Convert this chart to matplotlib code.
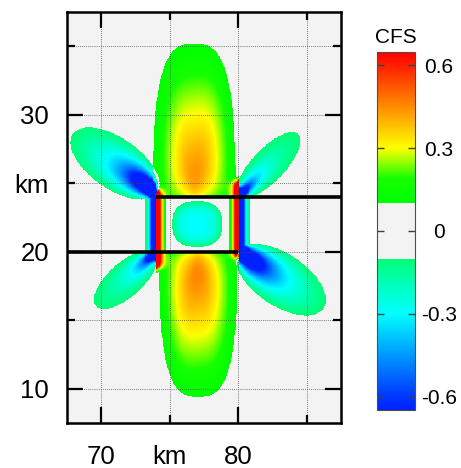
import numpy as np
import matplotlib
matplotlib.use('Agg')
import matplotlib.pyplot as plt
from matplotlib.colors import LinearSegmentedColormap, Normalize

# ---------------- data ----------------
x_range = [67.5, 87.5]
y_range = [7.5, 37.5]

fault_x = [[74.0, 87.5], [67.5, 80.0]]
fault_y = [[24.0, 24.0], [20.0, 20.0]]

# negative petal-shaped lobes emanating from fault corners
petal_x0 = [74.05, 79.95, 80.05, 73.9]
petal_y0 = [24.3, 20.05, 24.1, 19.9]
petal_dir = [145.0, -34.0, 46.5, 222.0]
petal_len = [7.5, 7.5, 6.2, 5.8]
petal_wid = [3.7, 3.8, 2.4, 2.5]
petal_gain = [1.8, 1.8, 0.8, 0.8]

# positive lobes above / below the overlap
lobe_xc = [76.75, 77.05]
lobe_y0 = [24.0, 20.0]
lobe_side = [1, -1]
lobe_halfw = [3.0, 2.85]
lobe_len = [11.2, 10.6]
lobe_peak = [0.44, 0.47]

# thin stress strips at the ends of the overlap
strip_x = [74.0, 80.0]
strip_pos_side = [1, -1]
strip_pos_lo = [18.9, 19.6]
strip_pos_hi = [24.4, 25.1]
strip_neg_lo = [19.6, 19.8]
strip_neg_hi = [24.4, 24.4]
strip_amp_pos = 2.3
strip_amp_neg = 3.6

# central negative lens
lens_xc, lens_yc = 76.97, 22.02
lens_a, lens_b = 1.84, 1.66
lens_peak = -0.3

cbar_ticks = [0.6, 0.3, 0.0, -0.3, -0.6]
cbar_labels = ['0.6', '0.3', '0', '-0.3', '-0.6']

# ---------------- field ----------------
xs = np.arange(x_range[0], x_range[1] + 1e-9, 0.04)
ys = np.arange(y_range[0], y_range[1] + 1e-9, 0.04)
X, Y = np.meshgrid(xs, ys)
Z = np.zeros_like(X)

def sig(z):
    return 1.0 / (1.0 + np.exp(-z))

with np.errstate(divide='ignore', invalid='ignore'):
    for x0, y0, ang, L, W, g in zip(petal_x0, petal_y0, petal_dir, petal_len, petal_wid, petal_gain):
        a = np.radians(ang)
        dx, dy = X - x0, Y - y0
        s = dx * np.cos(a) + dy * np.sin(a)
        t = -dx * np.sin(a) + dy * np.cos(a)
        e = L / W
        q = s / (s * s + (e * t) ** 2 + 1e-9)
        inside = (s > 0) & (q > 1.0 / L)
        qp = np.sqrt(np.clip(q, 0, 100))
        Z += np.where(inside, -(0.1 + g * (qp - L ** -0.5)), 0.0)

    for xc, y0, sd, a, b, pk in zip(lobe_xc, lobe_y0, lobe_side, lobe_halfw, lobe_len, lobe_peak):
        dx = X - xc
        h = (Y - y0) * sd
        rho = (np.abs(dx / a) ** 3 + np.abs(h / b) ** 3) ** (1 / 3)
        P = pk * (1 - 0.55 * np.exp(-np.maximum(h, 0) / 1.0)) * (1 + 0.12 * sd * dx / a)
        Z += np.where((h > 0) & (rho < 1), 0.1 + (1 - rho) * P, 0.0)

    for xs0, sd, plo, phi, nlo, nhi in zip(strip_x, strip_pos_side, strip_pos_lo, strip_pos_hi,
                                           strip_neg_lo, strip_neg_hi):
        d = (X - xs0) * sd
        wp = sig((Y - plo) / 0.15) * sig((phi - Y) / 0.15)
        wn = sig((Y - nlo) / 0.15) * sig((nhi - Y) / 0.15)
        Z += np.where(d > 0, strip_amp_pos * np.exp(-d / 0.22) * wp, 0.0)
        Z += np.where(d <= 0, -strip_amp_neg * np.exp(d / 0.22) * wn, 0.0)

    rho = (np.abs((X - lens_xc) / lens_a) ** 2.6 + np.abs((Y - lens_yc) / lens_b) ** 2.6) ** (1 / 2.6)
    Z += np.where(rho < 1, lens_peak + (-0.1 - lens_peak) * rho ** 3, 0.0)

# ---------------- colormap ----------------
gray = (0.953, 0.953, 0.953)
stops = [(-0.65, (0.0, 0.13, 1.0)), (-0.6, (0.0, 0.22, 1.0)), (-0.45, (0.0, 0.6, 1.0)),
         (-0.3, (0.0, 1.0, 1.0)), (-0.2, (0.0, 1.0, 0.75)), (-0.1, (0.0, 1.0, 0.45)),
         (-0.0999, gray), (0.0999, gray), (0.1, (0.0, 1.0, 0.0)), (0.19, (0.08, 1.0, 0.0)),
         (0.3, (1.0, 1.0, 0.0)), (0.45, (1.0, 0.55, 0.0)), (0.6, (1.0, 0.12, 0.0)),
         (0.65, (1.0, 0.0, 0.0))]
cmap = LinearSegmentedColormap.from_list('cfs', [((v + 0.65) / 1.3, c) for v, c in stops], N=1024)
norm = Normalize(vmin=-0.65, vmax=0.65)

# ---------------- figure ----------------
plt.rcParams['font.family'] = ['Liberation Sans', 'DejaVu Sans']
fig = plt.figure(figsize=(4.61, 4.68), dpi=100)
ax = fig.add_axes([0.1453, 0.0962, 0.5944, 0.8782])
im = ax.imshow(Z, origin='lower', extent=[x_range[0], x_range[1], y_range[0], y_range[1]],
               cmap=cmap, norm=norm, interpolation='nearest', aspect='auto', zorder=0)
for fx, fy in zip(fault_x, fault_y):
    ax.plot(fx, fy, color='black', lw=2.6, solid_capstyle='butt', zorder=4)
ax.set_xlim(x_range)
ax.set_ylim(y_range)

ax.set_xticks([70, 80], labels=['70', '80'])
ax.set_xticks([75, 85], labels=['km', ''], minor=True)
ax.set_yticks([10, 20, 30], labels=['10', '20', '30'])
ax.set_yticks([15, 25, 35], labels=['', 'km', ''], minor=True)
ax.tick_params(which='major', direction='in', length=11.5, width=1.6, top=True, right=True,
               labelsize=18.5, color='black')
ax.tick_params(which='minor', direction='in', length=5.8, width=1.6, top=True, right=True,
               labelsize=18.5, labelbottom=True, labelleft=True, color='black')
ax.tick_params(axis='x', which='both', pad=16)
ax.tick_params(axis='y', which='both', pad=13)
ax.grid(True, which='both', linestyle=(0, (1, 1.5)), color='0.3', linewidth=0.6, zorder=1)
for sp in ax.spines.values():
    sp.set_linewidth(1.8)
    sp.set_color('black')
    sp.set_zorder(5)

cax = fig.add_axes([0.8178, 0.1239, 0.0824, 0.7656])
cb = fig.colorbar(im, cax=cax, ticks=cbar_ticks)
cb.ax.set_yticklabels(cbar_labels)
cb.outline.set_linewidth(0.8)
cb.outline.set_edgecolor('0.3')
cax.tick_params(direction='in', left=True, right=True, length=5, width=1.0, color='0.25',
                labelsize=15, pad=17.3)
for lbl in cax.get_yticklabels():
    lbl.set_horizontalalignment('center')
cax.text(0.5, 1.0234, 'CFS', transform=cax.transAxes, ha='center', va='baseline', fontsize=15)

fig.savefig('out.png', dpi=100)
